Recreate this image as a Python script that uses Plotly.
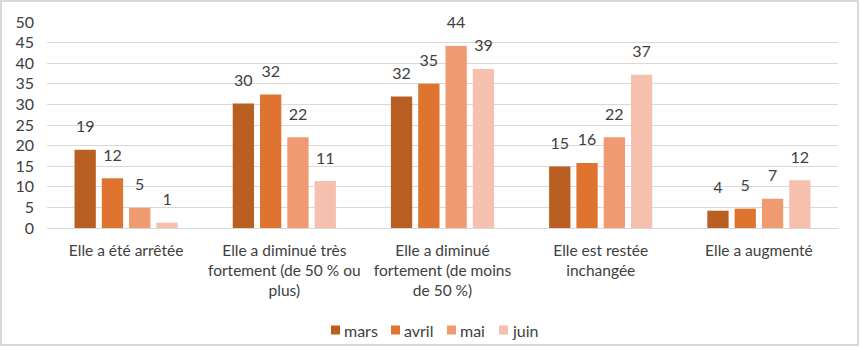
import plotly.graph_objects as go

categories = [
    "Elle a été arrêtée",
    "Elle a diminué très<br>fortement (de 50 % ou<br>plus)",
    "Elle a diminué<br>fortement (de moins<br>de 50 %)",
    "Elle est restée<br>inchangée",
    "Elle a augmenté",
]
series_names = ["mars", "avril", "mai", "juin"]
mars = [19.0, 30.2, 31.9, 14.9, 4.2]
avril = [12.1, 32.4, 35.0, 15.8, 4.7]
mai = [4.9, 22.0, 44.2, 22.0, 7.1]
juin = [1.3, 11.4, 38.6, 37.2, 11.6]
colors = ["#BA5F22", "#DF7430", "#F09A72", "#F5C0AE"]
y_ticks = [0, 5, 10, 15, 20, 25, 30, 35, 40, 45, 50]

W, H = 860, 347
ml, mr, mt, mb = 47, 22, 22, 119
FONT = "Lato"
TXT = "#404040"

fig = go.Figure()
all_series = [mars, avril, mai, juin]
for i, (name, vals, col) in enumerate(zip(series_names, all_series, colors)):
    fig.add_trace(go.Bar(
        x=categories, y=vals, name=name, offsetgroup=str(i),
        marker=dict(color=col, line=dict(width=0)), showlegend=False,
    ))
for i, (name, vals) in enumerate(zip(series_names, all_series)):
    fig.add_trace(go.Scatter(
        x=categories, y=vals, mode="markers+text", offsetgroup=str(i),
        marker=dict(size=20, opacity=0), text=[f"{round(v):d}" for v in vals],
        textposition="top center", textfont=dict(family=FONT, size=16, color=TXT),
        showlegend=False, hoverinfo="skip", cliponaxis=False,
    ))

pw = W - ml - mr
ph = H - mt - mb
fig.add_shape(type="rect", xref="paper", yref="paper",
              x0=(1 - ml) / pw, x1=(W - 2 - ml) / pw,
              y0=-(mb - 2) / ph, y1=(H - mb - 1) / ph,
              line=dict(color="#D9D9D9", width=2))

# legend (drawn manually to match the compact original layout)
leg_sq_x = [331, 391, 447, 499]
leg_y = 330
for name, col, sx in zip(series_names, colors, leg_sq_x):
    fig.add_shape(type="rect", xref="paper", yref="paper",
                  x0=(sx - ml) / pw, x1=(sx + 9 - ml) / pw,
                  y0=-(leg_y + 4.5 - (H - mb)) / ph, y1=-(leg_y - 4.5 - (H - mb)) / ph,
                  fillcolor=col, line=dict(width=0))
    fig.add_annotation(text=name, xref="paper", yref="paper",
                       x=(sx + 11 - ml) / pw, y=-(leg_y - (H - mb)) / ph,
                       xanchor="left", yanchor="middle", showarrow=False,
                       font=dict(family=FONT, size=16, color=TXT))

fig.update_layout(
    width=W, height=H, margin=dict(l=ml, r=mr, t=mt, b=mb, autoexpand=False),
    paper_bgcolor="white", plot_bgcolor="white",
    barmode="group", bargap=0.31, bargroupgap=0.22,
    scattermode="group", scattergap=0.31,
    font=dict(family=FONT, size=15, color=TXT),
    showlegend=False,
    xaxis=dict(showline=False, ticks="", automargin=False, ticklabelstandoff=11,
               tickfont=dict(family=FONT, size=15.5, color=TXT)),
    yaxis=dict(range=[0, 50], tickvals=y_ticks, showgrid=True, gridcolor="#D9D9D9", gridwidth=1,
               zeroline=True, zerolinecolor="#D9D9D9", zerolinewidth=1, automargin=False,
               ticks="", ticklabelstandoff=12,
               tickfont=dict(family=FONT, size=16, color=TXT)),
)

fig.write_html("out.html")
